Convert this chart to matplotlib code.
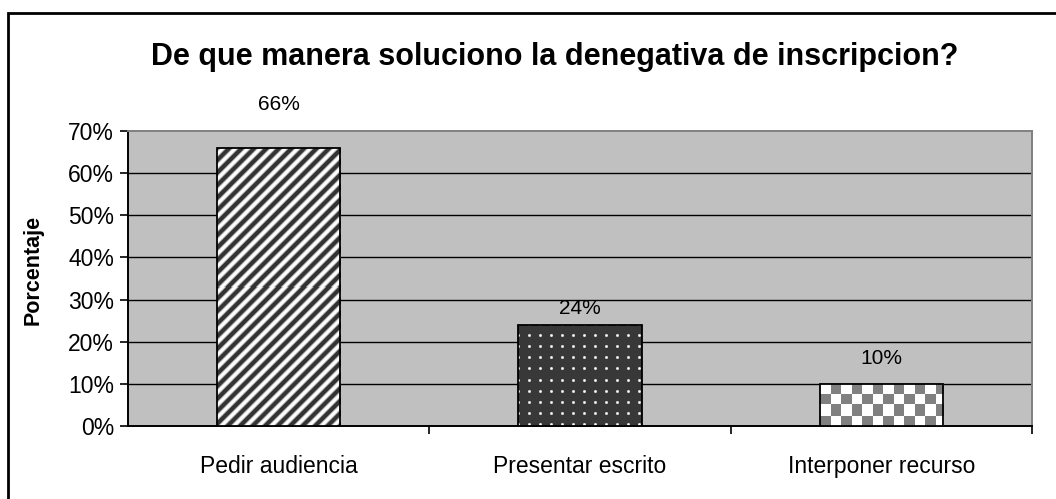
import numpy as np
import matplotlib
matplotlib.use("Agg")
import matplotlib.pyplot as plt
from matplotlib.patches import Rectangle

categories = ["Pedir audiencia", "Presentar escrito", "Interponer recurso"]
values = [66, 24, 10]
value_labels = ["66%", "24%", "10%"]
y_ticks = [0, 10, 20, 30, 40, 50, 60, 70]

# vertical placement of the value labels (data units above each bar top)
label_lift = [10.2, 3.8, 5.9]

plt.rcParams["font.family"] = ["Liberation Sans", "DejaVu Sans"]

W, H, DPI = 1056, 499, 100
fig = plt.figure(figsize=(W / DPI, H / DPI), dpi=DPI)
fig.patch.set_facecolor("white")

ax = fig.add_axes([128 / W, 1 - 426 / H, (1032 - 128) / W, (426 - 131) / H])
ax.set_facecolor("#C0C0C0")
ax.set_xlim(-0.5, 2.5)
ax.set_ylim(0, 70)

for y in y_ticks[1:-1]:
    ax.axhline(y, color="black", lw=1.0, zorder=1)

x = np.arange(len(categories))
bars = ax.bar(x, values, width=0.41, facecolor="none", edgecolor="black",
              linewidth=1.3, zorder=4)


def stripes(h, w, period=12.5):
    yy, xx = np.mgrid[0:h, 0:w]
    phase = ((xx + yy) % period) / period
    v = 0.5 + 0.5 * np.cos(2 * np.pi * phase)
    # dark diagonal bands on white
    return np.clip(1.0 - 1.3 * v ** 1.6, 0.2, 1.0)


def dots(h, w, period=11):
    img = np.full((h, w), 0.22)
    yy, xx = np.mgrid[0:h, 0:w]
    dx = np.abs(((xx + 5) % period) - 5)
    dy = np.abs(((yy + 5) % period) - 5)
    img[(dx <= 1) & (dy <= 1)] = 0.6
    img[(dx == 0) & (dy == 0)] = 1.0
    img[((dx == 0) & (dy == 1)) | ((dx == 1) & (dy == 0))] = 0.85
    return img


def checker(h, w, size=10.5):
    yy, xx = np.mgrid[0:h, 0:w]
    c = ((np.floor(xx / size) + np.floor(yy / size)) % 2).astype(float)
    return np.where(c > 0, 0.5, 1.0)


patterns = [stripes, dots, checker]

fig.canvas.draw()
for bar, pat in zip(bars, patterns):
    x0, y0 = bar.get_x(), bar.get_y()
    bw, bh = bar.get_width(), bar.get_height()
    p0 = ax.transData.transform((x0, y0))
    p1 = ax.transData.transform((x0 + bw, y0 + bh))
    pw = max(int(round(p1[0] - p0[0])), 1)
    ph = max(int(round(p1[1] - p0[1])), 1)
    img = pat(ph, pw)
    im = ax.imshow(img, cmap="gray", vmin=0, vmax=1, extent=(x0, x0 + bw, y0, y0 + bh),
                   origin="upper", interpolation="nearest", aspect="auto", zorder=3)
    clip = Rectangle((x0, y0), bw, bh, transform=ax.transData)
    im.set_clip_path(clip)

ax.set_xlim(-0.5, 2.5)
ax.set_ylim(0, 70)

for xi, v, lab, lift in zip(x, values, value_labels, label_lift):
    ax.text(xi, v + lift, lab, ha="center", va="center", fontsize=15,
            color="black", clip_on=False, zorder=5)

ax.set_yticks(y_ticks)
ax.set_yticklabels([f"{t}%" for t in y_ticks], fontsize=16.5)
ax.tick_params(axis="y", direction="out", length=6, width=1.2, pad=4)

ax.set_xticks(x)
ax.set_xticklabels(categories, fontsize=16.5)
ax.tick_params(axis="x", which="major", length=0, pad=21)
ax.set_xticks([0.5, 1.5, 2.5], minor=True)
ax.tick_params(axis="x", which="minor", direction="out", length=6, width=1.2)

for side in ["left", "bottom"]:
    ax.spines[side].set_color("black")
    ax.spines[side].set_linewidth(1.4)
for side in ["top", "right"]:
    ax.spines[side].set_color("#808080")
    ax.spines[side].set_linewidth(1.4)

ax.set_ylabel("Porcentaje", fontsize=15.5, fontweight="bold")
ax.yaxis.set_label_coords(-(128 - 44) / (1032 - 128), (426 - 270) / (426 - 131))

fig.text(555 / W, 1 - 57 / H, "De que manera soluciono la denegativa de inscripcion?",
         ha="center", va="center", fontsize=22, fontweight="bold")

# outer chart frame
fig.patches.append(Rectangle((8 / W, -0.1), 1.2, 1 - 13 / H + 0.1,
                             transform=fig.transFigure, fill=False,
                             edgecolor="black", linewidth=2))

fig.savefig("out.png", dpi=DPI)
